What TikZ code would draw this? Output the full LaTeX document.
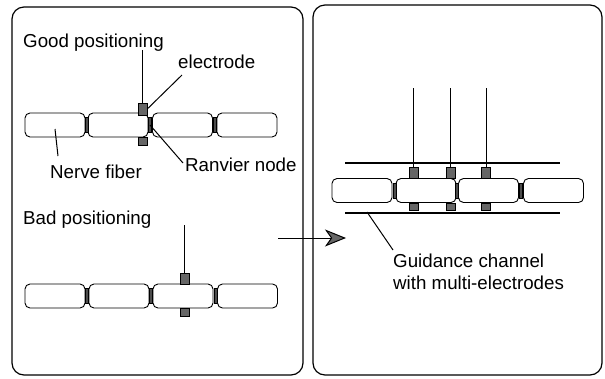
\documentclass[tikz,border=0pt]{standalone}
\usepackage{fontspec}
\setmainfont{Liberation Sans}
\usetikzlibrary{arrows.meta}
\begin{document}
\begin{tikzpicture}[x=1bp,y=-1bp,
  panel/.style={draw, line width=1.2bp, rounded corners=12bp},
  seg/.style={draw, line width=0.9bp, rounded corners=5bp, minimum width=60bp, minimum height=24bp, inner sep=0pt},
  gapbar/.style={fill=black!70, draw=black, line width=0.3bp, minimum width=3bp, minimum height=15bp, inner sep=0pt},
  elec/.style={fill=black!60, draw=black, line width=0.5bp, minimum width=9bp, inner sep=0pt},
  wire/.style={line width=1bp},
  lbl/.style={anchor=west, inner sep=0pt, font=\fontsize{18.8}{22}\selectfont},
  leader/.style={line width=1bp}]
\useasboundingbox (0,0) rectangle (605,378);

% panels
\draw[panel] (12,7) rectangle (303,375);
\draw[panel] (313,5) rectangle (602,375);

% ---------- good positioning ----------
\node[lbl] (good) at (23,43) {Good positioning};
\foreach \n/\cx in {1/55,2/118,3/182.5,4/247}
  \node[seg] (t\n) at (\cx,125) {};
\foreach \n/\gx in {1/86.5,2/150,3/215}
  \node[gapbar] (tg\n) at (\gx,125) {};
\node[elec, minimum height=12bp] (te1) at (142.5,109) {};
\node[elec, minimum height=8bp] (te2) at (142.5,141) {};
\coordinate (tw) at (142.5,50);
\draw[wire] (tw) -- (te1.north);
\node[lbl] (elab) at (178,62) {electrode};
\coordinate (el1) at (182,75);
\draw[leader] (el1) -- (te1.east);
\node[lbl] (nf) at (50,172) {Nerve fiber};
\coordinate (nf1) at (55,129);
\draw[leader] (nf1) -- (58,156);
\node[lbl] (rn) at (185,165) {Ranvier node};
\draw[leader] (tg2.center) -- (183,163);

% ---------- bad positioning ----------
\node[lbl] (bad) at (23,220) {Bad positioning};
\foreach \n/\cx in {1/55,2/119,3/183,4/247.5}
  \node[seg] (b\n) at (\cx,296) {};
\foreach \n/\gx in {1/87,2/151,3/215.25}
  \node[gapbar] (bg\n) at (\gx,296) {};
\node[elec, minimum height=11bp] (be1) at (184.5,278.5) {};
\node[elec, minimum height=8bp] (be2) at (184.5,312) {};
\coordinate (bw) at (184.5,225);
\draw[wire] (bw) -- (be1.north);

% ---------- transition arrow ----------
\coordinate (ar0) at (278,238);
\coordinate (ar1) at (346,238);
\draw[line width=1bp, -{Stealth[length=21bp, width=17bp, inset=6bp, fill=black!60]}] (ar0) -- (ar1);

% ---------- guidance channel ----------
\foreach \n/\cx in {1/362,2/426,3/488.5,4/553.5}
  \node[seg] (r\n) at (\cx,190.5) {};
\foreach \n/\gx in {1/394.5,2/457,3/520.5}
  \node[gapbar] (rg\n) at (\gx,190.5) {};
\coordinate (ct0) at (345,163);
\coordinate (ct1) at (560,163);
\coordinate (cb0) at (345,213);
\coordinate (cb1) at (560,213);
\draw[line width=1.2bp] (ct0) -- (ct1);
\draw[line width=1.2bp] (cb0) -- (cb1);
\foreach \n/\ex in {1/413.5,2/450.5,3/486}{
  \node[elec, minimum height=11bp] (re\n) at (\ex,172.5) {};
  \node[elec, minimum height=7bp] (rl\n) at (\ex,206.5) {};
  \coordinate (rw\n) at (\ex,88);
  \draw[wire] (rw\n) -- (re\n.north);
}
\node[lbl] (gc1) at (393,261) {Guidance channel};
\node[lbl] (gc2) at (393,283) {with multi-electrodes};
\coordinate (gl0) at (367,212);
\draw[leader] (gl0) -- (393,250);
\end{tikzpicture}
\end{document}
